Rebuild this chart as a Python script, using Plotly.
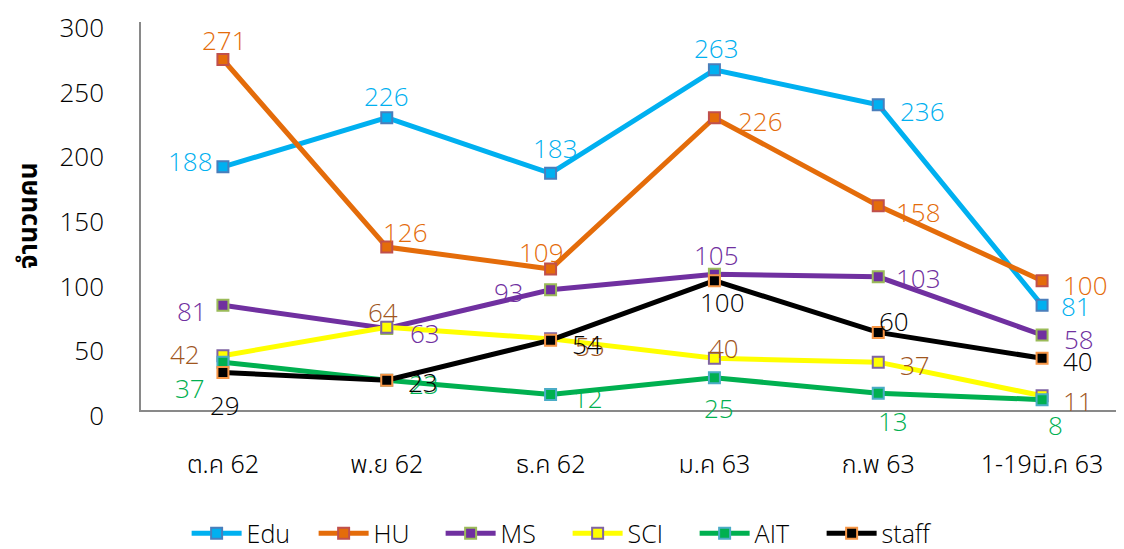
import plotly.graph_objects as go

categories = ["ต.ค 62", "พ.ย 62", "ธ.ค 62", "ม.ค 63", "ก.พ 63", "1-19มี.ค 63"]
series_names = ["Edu", "HU", "MS", "SCI", "AIT", "staff"]
edu = [188, 226, 183, 263, 236, 81]
hu = [271, 126, 109, 226, 158, 100]
ms = [81, 63, 93, 105, 103, 58]
sci = [42, 64, 55, 40, 37, 11]
ait = [37, 23, 12, 25, 13, 8]
staff = [29, 23, 54, 100, 60, 40]
values = [edu, hu, ms, sci, ait, staff]

y_title = "จำนวนคน"
y_ticks = [0, 50, 100, 150, 200, 250, 300]

# styles
line_colors = ["#00B0F0", "#E46C0A", "#7030A0", "#FFFF00", "#00B050", "#000000"]
marker_fill = ["#00B0F0", "#E46C0A", "#7030A0", "#FFFF00", "#00B050", "#000000"]
marker_border = ["#4A7EBB", "#C0504D", "#9BBB59", "#8064A2", "#4BACC6", "#F79646"]
label_colors = ["#00B0F0", "#E46C0A", "#7030A0", "#A0561E", "#00B050", "#000000"]
# label offsets in px (dx, dy up)
label_offsets = [
    [(-32, 6), (0, 22), (5, 25), (2, 22), (44, -6), (34, -1)],
    [(2, 20), (19, 15), (-9, 17), (46, -3), (40, -6), (43, -4)],
    [(-31, -6), (38, -4), (-42, -2), (2, 19), (40, -1), (37, -4)],
    [(-38, 2), (-4, 15), (39, -7), (10, 10), (37, -3), (36, -5)],
    [(-33, -26), (37, -4), (37, -4), (5, -30), (15, -28), (13, -25)],
    [(2, -33), (36, -2), (36, -4), (8, -21), (16, 11), (36, -3)],
]

FONT = "Open Sans, Liberation Sans, DejaVu Sans, sans-serif"
THAI_FONT = "Noto Sans Thai, Waree, Loma, Garuda, Open Sans, sans-serif"

fig = go.Figure()
for i, name in enumerate(series_names):
    fig.add_trace(go.Scatter(
        x=categories, y=values[i], name=name, mode="lines+markers",
        line=dict(color=line_colors[i], width=5),
        marker=dict(symbol="square", size=11, color=marker_fill[i],
                    line=dict(color=marker_border[i], width=2)),
        cliponaxis=False,
    ))

annotations = []
for i, name in enumerate(series_names):
    for j, cat in enumerate(categories):
        dx, dy = label_offsets[i][j]
        annotations.append(dict(
            x=cat, y=values[i][j], xref="x", yref="y", text=str(values[i][j]),
            showarrow=False, xshift=dx, yshift=dy, xanchor="center", yanchor="middle",
            font=dict(size=26, color=label_colors[i], family=FONT, weight=300),
        ))
annotations.append(dict(
    x=-0.114, y=0.5, xref="paper", yref="paper", text=y_title,
    textangle=-90, showarrow=False, xanchor="center", yanchor="middle",
    font=dict(size=26, color="#000000", family=THAI_FONT, weight=700),
))

# page body has an 8px margin, so the figure is sized/placed to compensate
fig.update_layout(
    width=1116, height=541,
    margin=dict(l=133, r=0, t=14, b=139, autoexpand=False),
    paper_bgcolor="white", plot_bgcolor="white",
    showlegend=True,
    legend=dict(orientation="h", x=0.434, y=-0.318, xanchor="center", yanchor="middle",
                font=dict(size=25, color="#000000", family=FONT, weight=300),
                itemwidth=50, entrywidth=62, tracegroupgap=0),
    annotations=annotations,
    font=dict(family=FONT, color="#000000"),
)
fig.update_xaxes(
    range=[-0.5, 5.5], automargin=False,
    showline=True, linecolor="#898989", linewidth=1.5, showgrid=False, ticks="",
    tickfont=dict(size=25, color="#000000", family=THAI_FONT, weight=300), ticklabelstandoff=31,
    zeroline=False,
)
fig.update_yaxes(
    range=[0, 300], tickvals=y_ticks, automargin=False,
    showline=True, linecolor="#898989", linewidth=1.5,
    showgrid=False, ticks="", zeroline=False, ticklabeloverflow="allow",
    ticklabelshift=6,
    tickfont=dict(size=26, color="#000000", family=FONT, weight=300), ticklabelstandoff=30,
)

fig.write_html("out.html")
